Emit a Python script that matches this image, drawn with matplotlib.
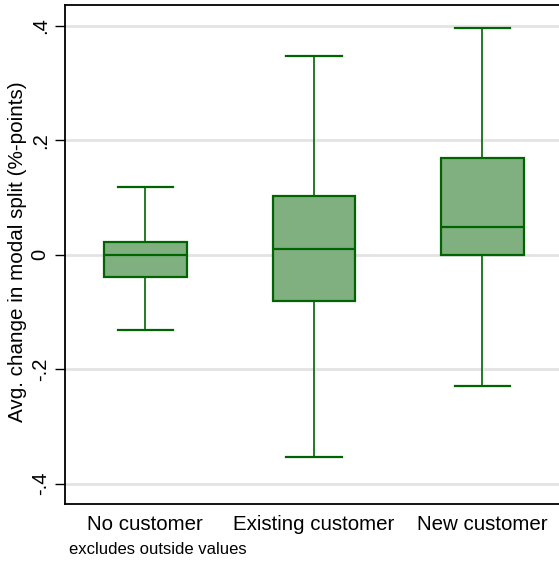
import matplotlib
matplotlib.use("Agg")
import matplotlib.pyplot as plt

plt.rcParams['font.family'] = ['Liberation Sans', 'DejaVu Sans']

# Box plot summaries (outside values excluded)
categories = ["No customer", "Existing customer", "New customer"]
whisker_low = [-0.132, -0.354, -0.230]
q1 = [-0.038, -0.080, 0.000]
median = [0.000, 0.010, 0.049]
q3 = [0.023, 0.103, 0.169]
whisker_high = [0.119, 0.348, 0.396]

yticks = [-0.4, -0.2, 0.0, 0.2, 0.4]
ytick_labels = ["-.4", "-.2", "0", ".2", ".4"]

edge = "#006400"
fill = "#80B080"

fig = plt.figure(figsize=(5.59, 5.61), dpi=100)
ax = fig.add_axes([65 / 559, 1 - 504 / 561, 494 / 559, (504 - 5.3) / 561])

stats = []
for i, name in enumerate(categories):
    stats.append(dict(label=name, whislo=whisker_low[i], q1=q1[i], med=median[i],
                      q3=q3[i], whishi=whisker_high[i], fliers=[]))

positions = list(range(1, len(categories) + 1))
ax.bxp(stats, positions=positions, widths=0.49, patch_artist=True, showfliers=False,
       boxprops=dict(facecolor=fill, edgecolor=edge, linewidth=1.6),
       medianprops=dict(color=edge, linewidth=1.6),
       whiskerprops=dict(color=edge, linewidth=1.2),
       capprops=dict(color=edge, linewidth=1.6),
       capwidths=0.33, zorder=3)

ax.set_xlim(0.523, 3.455)
ax.set_ylim(-0.4355, 0.436)

ax.set_yticks(yticks)
ax.set_yticklabels(ytick_labels, rotation=90, va="center", fontsize=14.5)
ax.tick_params(axis="y", length=7, width=1, pad=4)
ax.tick_params(axis="x", length=0, pad=8, labelsize=14.8)
ax.set_xticks(positions)
ax.set_xticklabels(categories)

ax.yaxis.grid(True, color="#e3e3e3", linewidth=2)
ax.set_axisbelow(True)

for side in ["left", "top", "bottom"]:
    ax.spines[side].set_linewidth(1.3)
    ax.spines[side].set_color("black")
ax.spines["right"].set_visible(False)

fig.text(18 / 559, 1 - 252 / 561, "Avg. change in modal split (%-points)",
         rotation=90, ha="center", va="center", fontsize=14.9)
fig.text(69 / 559, 1 - 549 / 561, "excludes outside values",
         ha="left", va="center", fontsize=12)

fig.savefig("out.png", dpi=100)
